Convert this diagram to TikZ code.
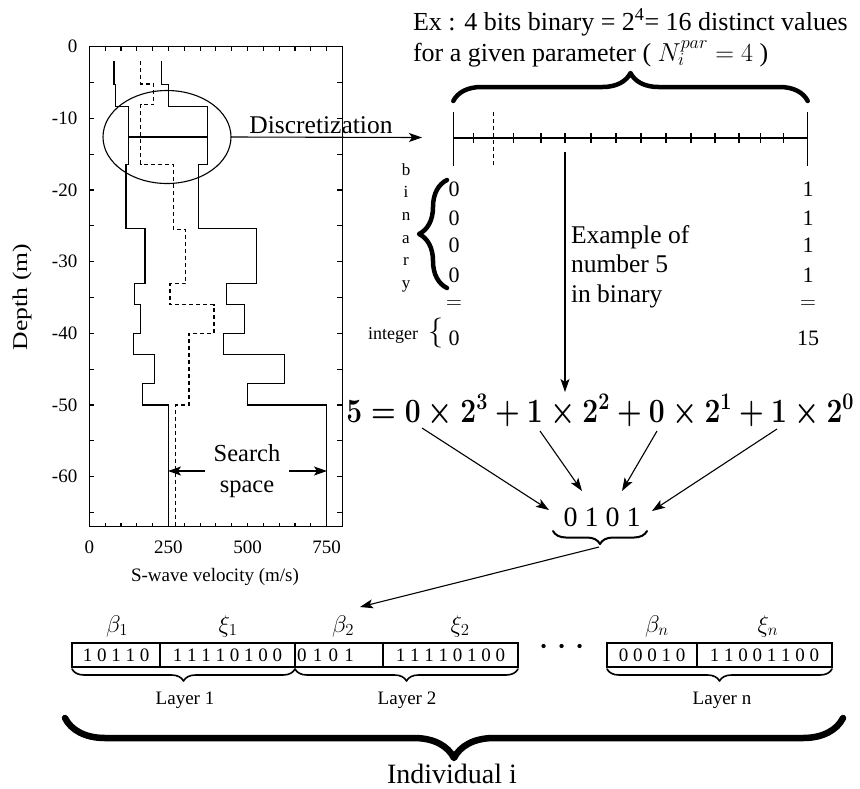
\RequirePackage{fix-cm}
\documentclass[tikz,border=0pt]{standalone}
\usepackage[no-math]{fontspec}
\setmainfont{Liberation Serif}
\usetikzlibrary{arrows.meta,decorations.pathreplacing,shapes.geometric}
\newcommand{\fsz}[1]{\fontsize{#1}{#1}\selectfont}
\newcommand{\fszb}[2]{\fontsize{#1}{#2}\selectfont}
\begin{document}
\begin{tikzpicture}[x=1pt,y=-1pt,
  every node/.style={inner sep=0pt,outer sep=0pt},
  ln/.style={line width=1.1pt},
  arr/.style={line width=1.1pt,-{Stealth[length=13pt,width=9pt,inset=3pt]}},
  brc/.style={decorate,decoration={brace,amplitude=#1},line cap=round,line join=round},
  bitbox/.style={draw,line width=1.1pt,minimum height=24pt,font=\fsz{19}},
  ticklbl/.style={font=\fsz{19}},
  lbl/.style={font=\fsz{25.5}},
  colnum/.style={font=\fsz{22},anchor=base},
  varlbl/.style={font=\fsz{24}},
  laylbl/.style={font=\fsz{19}},
]
\useasboundingbox (0,0) rectangle (860,788);

% ---------------- plot ----------------
\begin{scope}[shift={(89.3,46.7)},x=0.3165pt,y=7.1667pt]
  \draw[ln] (0,0) rectangle (800,-67);
  \foreach \v in {50,100,...,750}{
    \draw[ln] (\v,0) -- ++(0,-0.55);
    \draw[ln] (\v,-67) -- ++(0,0.55);}
  \foreach \d in {-5,-10,...,-65}{
    \draw[ln] (0,\d) -- ++(16,0);
    \draw[ln] (800,\d) -- ++(-16,0);}
  \foreach \d in {0,-10,...,-60}
    \node[ticklbl,anchor=east] at (-38,\d) {\d};
  \foreach \v in {0,250,500,750}
    \node[ticklbl] at (\v,-69.9) {\v};
  % lower bound
  \draw[ln] (78,-2) |- (84,-5.3) |- (123,-8.3) |- (116,-16.4) |- (176,-25.4)
     |- (144,-33) |- (163,-36) |- (141,-40) |- (205,-43) |- (169,-47)
     |- (250,-50) -- (250,-67);
  % upper bound
  \draw[ln] (228,-2) |- (250,-5.3) |- (373,-8.4) |- (346,-16.4) |- (529,-25.4)
     |- (434,-33) |- (489,-36) |- (423,-40) |- (618,-43) |- (499,-47)
     |- (750,-50) -- (750,-67);
  % actual profile
  \draw[ln,dash pattern=on 4pt off 3pt] (162,-2) |- (204,-5.2) |- (162,-8.1)
     |- (265,-16.4) |- (304,-25.5) |- (255,-33.1) |- (394,-36) |- (315,-40)
     |- (273,-50) -- (273,-67);
\end{scope}
\node[font=\fsz{19}] (xlab) at (215,577) {S-wave velocity (m/s)};
\node[font=\fsz{21},rotate=90,xscale=1.22] (ylab) at (22,297) {Depth (m)};

% search space
\node[align=center,font=\fszb{24.5}{31},inner xsep=9pt] (ss) at (247,471) {Search\\space};
\coordinate (sl) at (168,471);
\coordinate (sr) at (327,471);
\draw[arr] (ss.west) -- (sl);
\draw[arr] (ss.east) -- (sr);

% ellipse and discretization
\draw[ln] (128.2,137) -- (207.4,137);
\node[draw,ellipse,line width=1.1pt,minimum width=128pt,minimum height=93pt] (ell) at (167,137) {};
\coordinate (dtip) at (422,137.5);
\draw[arr] (ell.east) -- (dtip);
\node[lbl,anchor=base] (disc) at (321,133) {Discretization};

% ---------------- ruler ----------------
\node[anchor=base west,font=\fsz{26}] (t1) at (413,30) {Ex : 4 bits binary = 2\textsuperscript{4}= 16 distinct values};
\node[anchor=base west,font=\fsz{26}] (t2) at (413,61) {for a given parameter ( $N_i^{par}=4$ )};
\draw[brc=28pt,line width=4.5pt] (453.3,101) -- (807.7,101);
\draw[line width=1.4pt] (453.3,138) -- (807.7,138);
\draw[line width=1.4pt] (453.3,112) -- (453.3,166) (807.7,112) -- (807.7,166);
\foreach \x in {473.3,513.3,541,565,591,616,641,666,691,715,739,760.7,783.3}
  \draw[line width=1.2pt] (\x,133) -- (\x,143);
\draw[line width=1.2pt,dash pattern=on 4pt off 3pt] (493.3,112) -- (493.3,166);
\coordinate (r5) at (565,152);
\coordinate (eqin) at (565,392);
\draw[arr] (r5) -- (eqin);

% binary column
\node[font=\fszb{17}{22.6},align=center,anchor=north] (bin) at (406,163.5) {b\\i\\n\\a\\r\\y};
\draw[brc=28pt,line width=4.5pt] (447,288) -- (447,180);
\node[font=\fsz{18},anchor=base east] (intg) at (418,339) {integer};
\node[font=\fsz{30}] (ibr) at (436,333) {$\{$};
\foreach \yy/\n in {196/l1,225/l2,252/l3,282/l4}{
  \node[colnum] (\n) at (454,\yy) {0};
  \node[colnum] (r\n) at (808,\yy) {1};}
\node[font=\fsz{22}] (leq) at (454,305) {$=$};
\node[font=\fsz{22}] (req) at (808,305) {$=$};
\node[colnum] (lint) at (454,345) {0};
\node[colnum] (rint) at (808,345) {15};

\node[lbl,anchor=base west] (ex1) at (571,243) {Example of};
\node[lbl,anchor=base west] (ex2) at (571,272) {number 5};
\node[lbl,anchor=base west] (ex3) at (571,302) {in binary};

% equation
\node[anchor=base east,font=\fsz{34}\boldmath,xscale=0.83] (eq) at (854,422) {$5=0\times2^3+1\times2^2+0\times2^1+1\times2^0$};
\node[font=\fsz{28}] (bits) at (602,517) {0 1 0 1};
\coordinate (e1) at (422,428); \coordinate (f1) at (549,510);
\coordinate (e2) at (540,431); \coordinate (f2) at (582,491);
\coordinate (e3) at (657,431); \coordinate (f3) at (622,491);
\coordinate (e4) at (777,429); \coordinate (f4) at (652,511);
\draw[arr] (e1) -- (f1);
\draw[arr] (e2) -- (f2);
\draw[arr] (e3) -- (f3);
\draw[arr] (e4) -- (f4);
\draw[brc=13pt,line width=2pt] (647,531) -- (553,531);
\coordinate (bc) at (599,547);

% ---------------- chromosome ----------------
\node[varlbl] (b1) at (117,626) {$\beta_1$};
\node[varlbl] (x1) at (228,626) {$\xi_1$};
\node[varlbl] (b2) at (343,626) {$\beta_2$};
\node[varlbl] (x2) at (460,626) {$\xi_2$};
\node[varlbl] (bn) at (657,626) {$\beta_n$};
\node[varlbl] (xn) at (768,626) {$\xi_n$};
\coordinate (b2tip) at (360,607);
\draw[arr] (bc) -- (b2tip);

\node[bitbox,minimum width=88pt] (c1) at (116,655) {1 0 1 1 0};
\node[bitbox,minimum width=135pt] (c2) at (227.5,655) {1 1 1 1 0 1 0 0};
\node[bitbox,minimum width=88pt,text width=84pt,align=left] (c3) at (339,655) {0 1 0 1};
\node[bitbox,minimum width=135pt] (c4) at (450.5,655) {1 1 1 1 0 1 0 0};
\node[font=\fsz{40}] (dots) at (562,648) {$\cdots$};
\node[bitbox,minimum width=90pt] (cn1) at (652,655) {0 0 0 1 0};
\node[bitbox,minimum width=135pt] (cn2) at (764.5,655) {1 1 0 0 1 1 0 0};

\draw[brc=12pt,line width=1.6pt] (295,669) -- (72,669);
\draw[brc=12pt,line width=1.6pt] (518,669) -- (295,669);
\draw[brc=12pt,line width=1.6pt] (832,669) -- (607,669);
\node[laylbl] (L1) at (185,700) {Layer 1};
\node[laylbl] (L2) at (407,700) {Layer 2};
\node[laylbl] (Ln) at (722,700) {Layer n};

\draw[brc=40pt,line width=6.5pt] (843,718) -- (65,718);
\node[font=\fsz{28}] (ind) at (452,774) {Individual i};
\end{tikzpicture}
\end{document}
